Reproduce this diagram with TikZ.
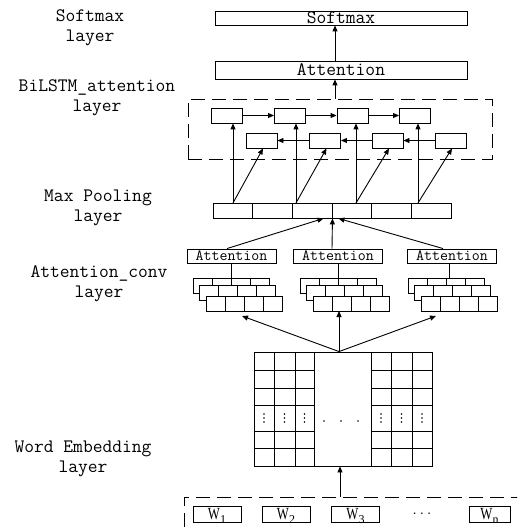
\documentclass[tikz,border=0pt]{standalone}
\usepackage{fontspec}
\usepackage{graphicx}
\newfontfamily\wfont{Liberation Serif}
\usetikzlibrary{arrows.meta,positioning,calc}
\tikzset{
  ln/.style={line width=0.9pt},
  bigbox/.style={draw, ln, inner sep=0pt, minimum width=252pt, font=\ttfamily\fontsize{19}{20}\selectfont},
  cell/.style={draw, ln, inner sep=0pt, fill=white, minimum width=31pt, minimum height=15pt},
  attbox/.style={draw, ln, inner sep=0pt, minimum width=89pt, minimum height=14pt, font=\ttfamily\fontsize{15.5}{16}\selectfont},
  conv/.style={draw, ln, fill=white, inner sep=0pt, minimum width=19pt, minimum height=15pt},
  wbox/.style={draw, ln, inner sep=0pt, minimum width=48pt, minimum height=16pt, text height=11pt, text depth=0pt, font=\wfont\fontsize{17}{17}\selectfont},
  lbl/.style={align=center, font=\ttfamily\fontsize{19}{20}\selectfont},
  arr/.style={ln, -{Triangle[length=6pt,width=5pt]}},
  dashframe/.style={draw, ln, dash pattern=on 14pt off 7pt, inner sep=0pt},
  dot/.style={fill, circle, inner sep=0pt, minimum size=1.8pt},
}
\newcommand{\wsub}[1]{\scalebox{0.75}[1]{W}\raisebox{-4pt}{\fontsize{12}{12}\selectfont #1}}
\begin{document}
\begin{tikzpicture}[x=1pt,y=-1pt]
\clip (0,0) rectangle (517,529);
\fill[white] (0,0) rectangle (517,529);

% left labels
\node[lbl] (l1) at (90,28) {Softmax\\layer};
\node[lbl] (l2) at (97,98) {BiLSTM\_attention\\layer};
\node[lbl] (l3) at (98,208) {Max Pooling\\layer};
\node[lbl] (l4) at (99,283.5) {Attention\_conv\\layer};
\node[lbl] (l5) at (83,458.5) {Word Embedding\\layer};

% top boxes
\node[bigbox, minimum height=14pt] (soft) at (341,18) {Softmax};
\node[bigbox, minimum height=18pt] (att) at (341,70) {Attention};
\node[dashframe, minimum width=304pt, minimum height=60pt] (bil) at (340,129) {};
\coordinate (c0) at (335,0);
\draw[arr] (c0 |- bil.north) -- (c0 |- att.south);
\draw[arr] (c0 |- att.north) -- (c0 |- soft.south);

% LSTM cells
\foreach \i/\x in {1/226.5,2/290,3/352.5,4/415}
  \node[cell] (f\i) at (\x,115.5) {};
\foreach \i/\x in {1/261.5,2/325,3/387.5,4/450.5}
  \node[cell] (b\i) at (\x,140.5) {};
\draw[arr] (f1.east) -- (f2.west);
\draw[arr] (f2.east) -- (f3.west);
\draw[arr] (f3.east) -- (f4.west);
\draw[arr] (b4.west) -- (b3.east);
\draw[arr] (b3.west) -- (b2.east);
\draw[arr] (b2.west) -- (b1.east);

% max pooling
\foreach \i in {1,...,6}
  \node[cell, minimum width=39.67pt] (m\i) at ({213+39.67*(\i-0.5)},210.5) {};
\foreach \i/\x in {1/233,2/296,3/356,4/418}{
  \coordinate (p\i) at (\x,203);
  \draw[arr] (p\i) -- (p\i |- f\i.south);
  \draw[arr] (p\i) -- ([xshift=1.5pt]b\i.south);
}

% attention boxes
\node[attbox] (a1) at (231.5,256) {Attention};
\node[attbox] (a2) at (338,256) {Attention};
\node[attbox] (a3) at (452,256) {Attention};
\draw[arr] ([xshift=-4.5pt]a1.north) -- ([xshift=-9pt]m3.south east);
\draw[arr] ([xshift=-6pt]a2.north) -- (m3.south east);
\draw[arr] ([xshift=-9pt]a3.north) -- ([xshift=6pt]m3.south east);

% conv stacks
\foreach \s/\x in {1/193,2/300,3/408}{
  \foreach \l/\dx/\dy in {1/0/278,2/6.5/285,3/13/296}{
    \foreach \k in {1,...,4}{
      \node[conv] (s\s-\l-\k) at ({\x+\dx+19*(\k-0.5)},{\dy+7.5}) {};
    }
  }
}
\draw[ln] (a1.south) -- (a1.south |- s1-1-2.north);
\draw[ln] (a2.south) -- (a2.south |- s2-1-2.north);
\draw[ln] ([xshift=-3pt]a3.south) -- ([xshift=-3pt]a3.south |- s3-1-2.north);

% embedding
\node[draw, ln, inner sep=0pt, minimum width=178pt, minimum height=114pt] (emb) at (343,409) {};
\foreach \x in {274,295,314,371,391,412}
  \draw[ln] (\x,352) -- (\x,466);
\foreach \y in {370,388,405,431,448}{
  \draw[ln] (254,\y) -- (314,\y);
  \draw[ln] (371,\y) -- (432,\y);
}
\foreach \x in {264,284.5,304.5,381,401.5,422}{
  \node[dot] at (\x,414) {};
  \node[dot] at (\x,418) {};
  \node[dot] at (\x,422) {};
}
\foreach \x in {324,341,358}
  \node[dot, minimum size=1.6pt] at (\x,421) {};

\coordinate (e0) at ([xshift=-4pt]emb.north);
\coordinate (t1) at (242,316);
\coordinate (t2) at (339,311);
\coordinate (t3) at (436,316);
\draw[arr] (e0) -- (t1);
\draw[arr] (e0) -- (t2);
\draw[arr] (e0) -- (t3);

% word inputs
\node[dashframe, minimum width=346pt, minimum height=48pt] (wb) at (357,521) {};
\coordinate (e1) at ([xshift=-3pt]emb.south);
\draw[arr] (e1 |- wb.north) -- (e1);
\node[wbox] (w1) at (217,514) {\wsub{1}};
\node[wbox] (w2) at (286,514) {\wsub{2}};
\node[wbox] (w3) at (355.5,514) {\wsub{3}};
\node[font=\ttfamily\fontsize{14}{14}\selectfont] (wd) at (422,514) {...};
\node[wbox, minimum width=41pt] (wn) at (489.5,514) {\wsub{n}};
\end{tikzpicture}
\end{document}
